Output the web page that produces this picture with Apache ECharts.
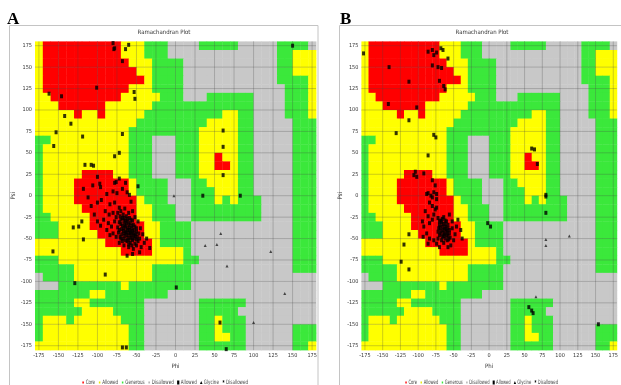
<!DOCTYPE html>
<html>
<head>
<meta charset="utf-8">
<script src="https://cdn.jsdelivr.net/npm/echarts@6/dist/echarts.min.js"></script>
<style>
html, body { margin: 0; padding: 0; background: #fff; }
#main { width: 621px; height: 385px; }
</style>
</head>
<body>
<div id="main"></div>
<script>
var chart = echarts.init(document.getElementById('main'));

// tick labels on both axes
var tickValues = [-175, -150, -125, -100, -75, -50, -25, 0, 25, 50, 75, 100, 125, 150, 175];

// region map, 10 degree cells, run length per row
// row 0 = psi 170..180 (top), each row goes phi -180 -> 180
// R core, Y allowed, G generous, D disallowed
var regionRows = [
    '1Y10R3Y3G4D5G5D4G1D',
    '1Y10R3Y3G14D2G3Y',
    '1Y11R3Y4G12D2G3Y',
    '1Y12R2Y4G12D2G3Y',
    '1Y13R1Y4G12D4G1Y',
    '1Y11R3Y4G13D3G1Y',
    '2Y9R5Y3G3D6G4D3G1Y',
    '3Y6R6Y13G4D3G1Y',
    '5Y1R2Y1R5Y10G2Y2G4D3G1Y',
    '13Y9G4Y2G5D3G',
    '12Y9G5Y2G5D3G',
    '2G10Y3G3D3G5Y2G5D3G',
    '1G11Y3G3D3G5Y2G5D3G',
    '1G11Y3G3D3G2Y1R2Y2G5D3G',
    '1G11Y3G3D3G2Y2R1Y2G5D3G',
    '1G5Y4R2Y3G3D3G5Y2G5D3G',
    '1G4Y7R1Y4G3D2G4Y2G5D3G',
    '1G4Y7R1Y4G3D3G3Y2G5D3G',
    '1G4Y8R1Y3G3D3G1Y1G1Y3G4D3G',
    '1G5Y7R2Y3G2D9G4D3G',
    '2G5Y6R2Y3G2D9G4D3G',
    '3G4Y7R2Y4G13D3G',
    '3G5Y6R2Y4G13D3G',
    '9Y6R1Y4G13D3G',
    '11Y4R4Y1G13D3G',
    '3G16Y2G12D3G',
    '5G10Y5G13D3G',
    '1D4G10Y5G16D',
    '3D8G1Y8G16D',
    '7G2Y8G19D',
    '5G2Y7G7D6G9D',
    '6G4Y4G7D5G10D',
    '1G3Y1G6Y3G7D2G1Y3G9D',
    '1G11Y2G7D2G1Y3G6D3G',
    '1G11Y2G7D2G2Y2G6D3G',
    '12Y2G7D6G6D2G1Y'
];

// panel A residues [phi, psi]
var residuesA = [
    [-80, 178], [-79, 171], [-64, 171], [-60, 176], [-78, 172], [-68, 157], [-101, 126],
    [-162, 119], [-146, 116], [-53, 121], [-52, 113], [-142, 93], [-134, 84], [-153, 74],
    [-119, 69], [-68, 72], [-156, 58], [-78, 46], [-72, 50], [-116, 36], [-108, 36],
    [-105, 35], [-76, 16], [-64, 15], [-48, 11], [-97, 14], [61, 76], [61, 57], [61, 24],
    [150, 175], [83, 0], [35, 0], [57, -148], [65, -179], [1, -107], [-68, -177], [-63, -177],
    [-90, -92], [-129, -102], [-157, -65], [-118, -51], [-131, -37], [-124, -36], [-120, -30],
    [-59, 1], [-57, -7],
    [-70, -28], [-66, -30], [-62, -27], [-58, -32], [-55, -29], [-68, -35], [-64, -36],
    [-60, -34], [-56, -38], [-52, -36], [-72, -40], [-67, -41], [-63, -43], [-59, -40],
    [-54, -44], [-50, -42], [-65, -47], [-61, -49], [-57, -46], [-53, -50], [-49, -48],
    [-69, -45], [-62, -53], [-58, -55], [-55, -52], [-66, -38], [-60, -44], [-57, -42],
    [-63, -32], [-59, -37], [-61, -40], [-64, -42], [-56, -35], [-53, -40], [-51, -45],
    [-48, -53], [-67, -50], [-70, -33], [-58, -49], [-62, -38],
    [-71, -24], [-67, -22], [-63, -24], [-59, -26], [-54, -34], [-50, -38], [-47, -44],
    [-46, -50], [-52, -56], [-56, -58], [-60, -57], [-64, -52], [-68, -53], [-71, -48],
    [-73, -43], [-74, -37], [-72, -31], [-68, -26], [-65, -34], [-61, -30], [-57, -28],
    [-55, -41], [-58, -44], [-62, -46], [-66, -44], [-69, -39], [-60, -52], [-56, -50],
    [-52, -47], [-50, -51], [-54, -46], [-64, -29], [-66, -26], [-70, -50],
    [-95, -5], [-88, 2], [-80, 5], [-75, 3], [-68, 8], [-62, 4], [-84, -10], [-78, -8],
    [-72, -14], [-90, -18], [-85, -22], [-80, -20], [-76, -25], [-92, -28], [-86, -32],
    [-82, -36], [-78, -30], [-74, -20], [-70, -18], [-65, -15], [-60, -20], [-55, -18],
    [-52, -25], [-48, -30], [-45, -38], [-42, -45], [-40, -55], [-37, -50], [-33, -61],
    [-44, -60], [-50, -58], [-54, -62], [-60, -60], [-66, -58], [-72, -55], [-76, -48],
    [-80, -44], [-84, -46], [-88, -40], [-96, -35], [-100, -30], [-104, -22], [-108, -12],
    [-100, -8], [-112, -2], [-118, 8], [-106, 12], [-96, 10], [-100, 22], [-78, 15],
    [-72, 20], [-55, -68], [-46, -66], [-62, -70]
];
var glycineA = [
    [-2, 0], [58, -44], [38, -58], [53, -57], [66, -82], [122, -65], [140, -114], [100, -148]
];

// panel B residues [phi, psi]
var residuesB = [
    [-177, 166], [-141, 150], [-113, 133], [-142, 107], [-102, 103], [-113, 88], [-131, 73],
    [-78, 71], [-75, 68], [-86, 47], [-92, 26], [-104, 28], [-102, 22], [-106, 24],
    [-86, 168], [-80, 170], [-78, 164], [-74, 167], [-68, 172], [-58, 160], [-65, 170],
    [-80, 152], [-72, 150], [-67, 149], [-70, 134], [-64, 128], [-62, 124],
    [60, 55], [64, 54], [68, 37], [80, 1], [80, -1], [80, -20], [-2, -32], [2, -36],
    [-113, -45], [-120, -57], [-124, -77], [-113, -86], [56, -130], [60, -134], [62, -137],
    [154, -150], [-86, 3], [-74, 2], [-80, -2],
    [-72, -26], [-68, -29], [-64, -25], [-60, -30], [-70, -34], [-66, -36], [-62, -33],
    [-58, -38], [-68, -41], [-64, -43], [-60, -41], [-56, -44], [-66, -48], [-62, -50],
    [-58, -47], [-70, -46], [-63, -38], [-67, -31], [-61, -36], [-65, -40], [-59, -52],
    [-55, -49], [-64, -55], [-71, -38],
    [-70, -30], [-66, -27], [-62, -29], [-58, -34], [-56, -40], [-60, -46], [-64, -47],
    [-68, -44], [-72, -42], [-69, -37], [-65, -33], [-61, -39], [-67, -52], [-63, -45],
    [-59, -43], [-57, -51],
    [-88, 2], [-82, 0], [-78, 4], [-74, -4], [-84, -8], [-80, -12], [-76, -16], [-90, -18],
    [-86, -24], [-80, -28], [-78, -22], [-74, -14], [-92, -36], [-88, -44], [-84, -50],
    [-78, -52], [-74, -56], [-70, -60], [-54, -58], [-50, -52], [-52, -38], [-48, -45],
    [-56, -22], [-52, -30], [-46, -36], [-44, -28], [-40, -40], [-38, -50], [-86, -56],
    [-93, -48], [-94, -30], [-80, 18], [-76, 12], [-84, -32], [-72, -50], [-58, -60]
];
var glycineB = [
    [80, -51], [80, -58], [113, -47], [66, -118]
];

var regionCode = { R: 0, Y: 1, G: 2, D: 3 };
var regionColors = ['#ff0000', '#ffff00', '#3be83b', '#c8c8c8'];
var labelFont = '"Liberation Sans Narrow", "DejaVu Sans Condensed", sans-serif';

function buildCells() {
    var cells = [];
    regionRows.forEach(function (row, j) {
        var col = 0;
        row.replace(/(\d+)([RYGD])/g, function (m, n, c) {
            for (var k = 0; k < +n; k++) {
                cells.push([-180 + 10 * col, 170 - 10 * j, regionCode[c]]);
                col++;
            }
            return m;
        });
    });
    return cells;
}
var cells = buildCells();

function renderCell(params, api) {
    var a = api.coord([api.value(0), api.value(1) + 10]);
    var b = api.coord([api.value(0) + 10, api.value(1)]);
    return {
        type: 'rect',
        shape: { x: a[0], y: a[1], width: b[0] - a[0] + 0.4, height: b[1] - a[1] + 0.4 },
        style: { fill: regionColors[api.value(2)] }
    };
}

function renderGridLine(params, api) {
    var v = api.value(0);
    var t = api.coord([v, 180]), bt = api.coord([v, -180]);
    var l = api.coord([-180, v]), r = api.coord([180, v]);
    var st = { stroke: 'rgba(70,70,70,0.35)', lineWidth: 0.8 };
    return {
        type: 'group',
        children: [
            { type: 'line', shape: { x1: t[0], y1: t[1], x2: bt[0], y2: bt[1] }, style: st },
            { type: 'line', shape: { x1: l[0], y1: l[1], x2: r[0], y2: r[1] }, style: st }
        ]
    };
}

var panels = [
    { letter: 'A', left: 35, width: 281, boxX: 9.5, boxW: 308.5, letterX: 7, titleX: 164,
      legendX: 82, legendW: 166, res: residuesA, gly: glycineA },
    { letter: 'B', left: 361.4, width: 257.2, boxX: 339.5, boxW: 300, letterX: 340, titleX: 482,
      legendX: 405, legendW: 153, res: residuesB, gly: glycineB }
];

var legendItems = [
    { label: 'Core', color: '#ff0000', icon: 'dot' },
    { label: 'Allowed', color: '#e8e800', icon: 'dot' },
    { label: 'Generous', color: '#3be83b', icon: 'dot' },
    { label: 'Disallowed', color: '#b0b0b0', icon: 'dot' },
    { label: 'Allowed', color: '#000', icon: 'square' },
    { label: 'Glycine', color: '#000', icon: 'triangle' },
    { label: 'Disallowed', color: '#000', icon: 'star' }
];

var measureCtx = document.createElement('canvas').getContext('2d');
var legendFont = '6px ' + labelFont;
measureCtx.font = legendFont;

function buildLegend(p) {
    var children = [], x = 1.5, y = 382.5;
    legendItems.forEach(function (it) {
        if (it.icon === 'dot') {
            children.push({ type: 'rect', shape: { x: x - 1, y: y - 1, width: 2, height: 2 }, style: { fill: it.color } });
        } else if (it.icon === 'square') {
            children.push({ type: 'rect', shape: { x: x - 1.5, y: y - 2, width: 3, height: 4 }, style: { fill: it.color } });
        } else if (it.icon === 'triangle') {
            children.push({ type: 'polygon', shape: { points: [[x, y - 1.6], [x + 1.7, y + 1.5], [x - 1.7, y + 1.5]] }, style: { fill: it.color } });
        } else {
            children.push({ type: 'text', x: x, y: y + 0.8, style: { text: '*', font: 'bold 7px sans-serif', fill: it.color,
                            textAlign: 'center', textVerticalAlign: 'middle' } });
        }
        children.push({ type: 'text', x: x + 3.5, y: y,
                        style: { text: it.label, font: legendFont, fill: '#444', textVerticalAlign: 'middle' } });
        x += 3.5 + measureCtx.measureText(it.label).width + 6;
    });
    var natural = x - 6;
    return { type: 'group', x: p.legendX, y: 0, scaleX: p.legendW / natural, children: children };
}

var grids = [], xAxes = [], yAxes = [], series = [], graphics = [];

panels.forEach(function (p, i) {
    grids.push({ left: p.left, top: 41.4, width: p.width, height: 308.6 });
    xAxes.push({
        type: 'value', gridIndex: i, min: -180, max: 180,
        name: 'Phi', nameLocation: 'middle', nameGap: 12,
        nameTextStyle: { fontSize: 6, color: '#333', fontFamily: labelFont },
        axisLine: { show: false }, axisTick: { show: false }, splitLine: { show: false },
        axisLabel: { customValues: tickValues, fontSize: 5.5, color: '#333', margin: 3, fontFamily: labelFont }
    });
    yAxes.push({
        type: 'value', gridIndex: i, min: -180, max: 180,
        name: 'Psi', nameLocation: 'middle', nameGap: 16, nameRotate: 90,
        nameTextStyle: { fontSize: 6, color: '#333', fontFamily: labelFont },
        axisLine: { show: false }, axisTick: { show: false }, splitLine: { show: false },
        axisLabel: { customValues: tickValues, fontSize: 5.5, color: '#333', margin: 3, fontFamily: labelFont }
    });
    series.push({
        type: 'custom', xAxisIndex: i, yAxisIndex: i, z: 1, silent: true,
        renderItem: renderCell, data: cells
    });
    series.push({
        type: 'custom', xAxisIndex: i, yAxisIndex: i, z: 2, silent: true,
        renderItem: renderGridLine,
        data: tickValues.map(function (v) { return [v, v]; })
    });
    series.push({
        type: 'scatter', name: 'Allowed', xAxisIndex: i, yAxisIndex: i, z: 3,
        symbol: 'rect', symbolSize: [3, 4], itemStyle: { color: '#000' }, data: p.res
    });
    series.push({
        type: 'scatter', name: 'Glycine', xAxisIndex: i, yAxisIndex: i, z: 3,
        symbol: 'triangle', symbolSize: 3, itemStyle: { color: '#222' }, data: p.gly
    });

    // frame, panel letter, title
    graphics.push({
        type: 'rect', shape: { x: p.boxX, y: 25.5, width: p.boxW, height: 380 },
        style: { fill: 'none', stroke: '#c4c4c4', lineWidth: 1 }, z: 0
    });
    graphics.push({
        type: 'text', x: p.letterX, y: 11,
        style: { text: p.letter, font: 'bold 17px "Liberation Serif", serif', fill: '#000' }
    });
    graphics.push({
        type: 'text', x: p.titleX, y: 32,
        style: { text: 'Ramachandran Plot', font: '6px ' + labelFont, fill: '#333',
                 textAlign: 'center', textVerticalAlign: 'middle' }
    });
    graphics.push(buildLegend(p));
});

var option = {
    animation: false,
    backgroundColor: '#fff',
    grid: grids,
    xAxis: xAxes,
    yAxis: yAxes,
    series: series,
    graphic: graphics
};
chart.setOption(option);
</script>
</body>
</html>
